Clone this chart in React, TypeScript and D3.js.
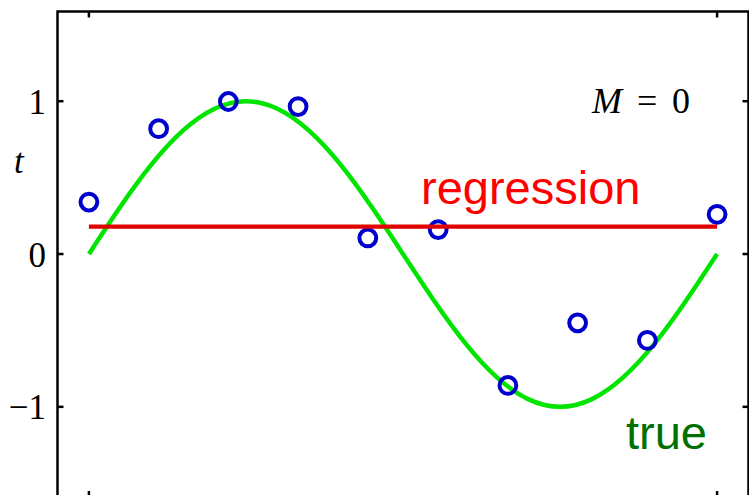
import React from "react";
import * as d3 from "d3";

// Observed training points (x_n, t_n)
const pointX = [0, 0.111, 0.222, 0.333, 0.444, 0.556, 0.667, 0.778, 0.889, 1];
const pointT = [0.34, 0.82, 0.998, 0.965, 0.105, 0.16, -0.86, -0.45, -0.565, 0.26];

// Underlying "true" curve, sampled along x
const curveX = [0, 0.05, 0.1, 0.15, 0.2, 0.25, 0.3, 0.35, 0.4, 0.45, 0.5, 0.55, 0.6, 0.65, 0.7, 0.75, 0.8, 0.85, 0.9, 0.95, 1];
const curveT = [0, 0.309, 0.588, 0.809, 0.951, 1, 0.951, 0.809, 0.588, 0.309, 0, -0.309, -0.588, -0.809, -0.951, -1, -0.951, -0.809, -0.588, -0.309, 0];

// M = 0 fit: a constant equal to the mean target
const regressionX = [0, 1];
const regressionLevel = 0.179;

const xTicks = [0, 1];
const yTicks = [-1, 0, 1];
const yTickLabels = ["\u22121", "0", "1"];

const W = 749;
const H = 495;
const left = 57.5;
const right = 748.5;
const top = 11.5;
const bottom = 497;

export default function App() {
  const x = d3.scaleLinear().domain([-0.05, 1.05]).range([left, right]);
  const y = d3.scaleLinear().domain([-1.59, 1.587]).range([bottom, top]);

  const trueLine = d3
    .line<number>()
    .x((_, i) => x(curveX[i]))
    .y((d) => y(d))
    .curve(d3.curveNatural);

  const regLine = d3
    .line<number>()
    .x((d) => x(d))
    .y(() => y(regressionLevel));

  const serif = "'Liberation Serif', 'Times New Roman', serif";
  const sans = "'Liberation Sans', Arial, sans-serif";
  const tickLen = 6;

  return (
    <svg
      width={W}
      height={H}
      style={{ position: "absolute", left: 0, top: 0, background: "#fff" }}
    >
      {/* frame */}
      <rect
        x={left}
        y={top}
        width={right - left}
        height={bottom - top}
        fill="none"
        stroke="#000"
        strokeWidth={2.5}
      />
      {/* inward ticks */}
      {xTicks.map((v) => (
        <g key={"xt" + v} stroke="#000" strokeWidth={2.5}>
          <line x1={x(v)} x2={x(v)} y1={top} y2={top + tickLen} />
          <line x1={x(v)} x2={x(v)} y1={bottom} y2={bottom - tickLen} />
        </g>
      ))}
      {yTicks.map((v) => (
        <g key={"yt" + v} stroke="#000" strokeWidth={2.5}>
          <line x1={left} x2={left + tickLen} y1={y(v)} y2={y(v)} />
          <line x1={right} x2={right - tickLen} y1={y(v)} y2={y(v)} />
        </g>
      ))}
      {yTicks.map((v, i) => (
        <text
          key={"yl" + v}
          x={46}
          y={y(v) + 12.5}
          textAnchor="end"
          fontFamily={serif}
          fontSize={35}
          fill="#000"
        >
          {yTickLabels[i]}
        </text>
      ))}
      {/* axis label */}
      <text x={14} y={173} fontFamily={serif} fontStyle="italic" fontSize={35} fill="#000">
        t
      </text>

      {/* true curve */}
      <path
        d={trueLine(curveT) || ""}
        fill="none"
        stroke="#00e400"
        strokeWidth={4.5}
      />

      {/* data points */}
      {pointX.map((px, i) => (
        <circle
          key={"p" + i}
          cx={x(px)}
          cy={y(pointT[i])}
          r={8.4}
          fill="none"
          stroke="#0000cc"
          strokeWidth={4}
        />
      ))}

      {/* fitted constant */}
      <path
        d={regLine(regressionX) || ""}
        fill="none"
        stroke="#e00000"
        strokeWidth={4.2}
      />

      {/* annotations */}
      <text x={421} y={204} fontFamily={sans} fontSize={47} fill="#ff0000">
        regression
      </text>
      <text x={626} y={449} fontFamily={sans} fontSize={47} fill="#007000">
        true
      </text>
      <text y={113} fontFamily={serif} fontSize={36} fill="#000">
        <tspan x={592} fontStyle="italic">M</tspan>
        <tspan x={637}>=</tspan>
        <tspan x={672}>0</tspan>
      </text>
    </svg>
  );
}
